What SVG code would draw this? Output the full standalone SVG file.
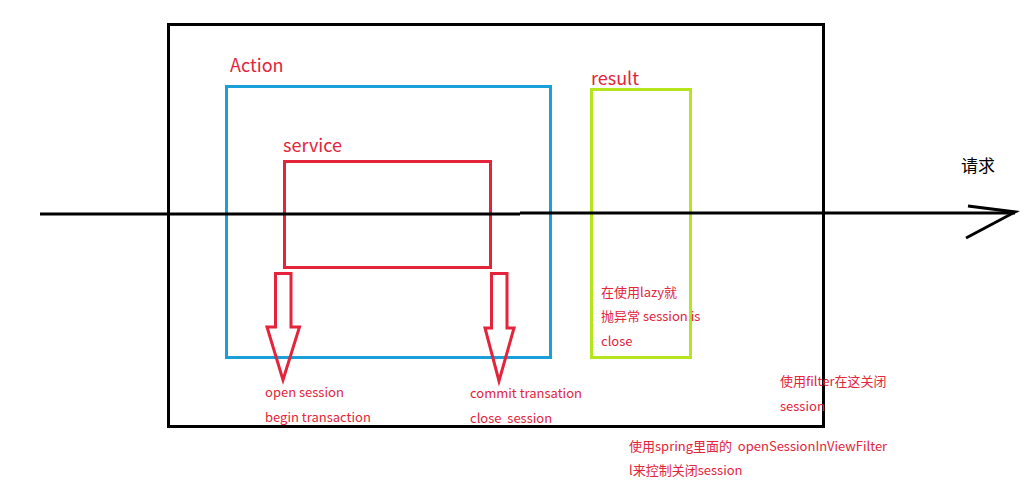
<svg xmlns="http://www.w3.org/2000/svg" width="1032" height="492" viewBox="0 0 1032 492">
<style>
.box{fill:none;stroke-width:3}
.lbl{font-family:"Noto Sans CJK SC","Liberation Sans",sans-serif;fill:#e3243b;white-space:pre}
.big{font-size:18px}
.sm{font-size:13px}
.red{fill:none;stroke:#e3243b;stroke-width:3;stroke-linejoin:miter}
</style>
<rect width="1032" height="492" fill="#ffffff"/>
<g id="container">
<rect class="box" x="168.5" y="24.5" width="655" height="402" stroke="#000000"/>
</g>
<g id="action">
<rect class="box" x="226.5" y="86.5" width="324" height="271" stroke="#1a9fdb"/>
<text class="lbl big" x="230" y="72">Action</text>
</g>
<g id="service">
<rect class="box" x="284.5" y="161.5" width="206" height="106" stroke="#e3243b"/>
<text class="lbl big" x="283" y="152">service</text>
</g>
<g id="result">
<rect class="box" x="591.5" y="89.5" width="99" height="268" stroke="#b5e61d"/>
<text class="lbl big" x="591" y="85">result</text>
<text class="lbl sm" x="601" y="297">在使用lazy就</text>
<text class="lbl sm" x="601" y="321">抛异常 session is</text>
<text class="lbl sm" x="601" y="346">close</text>
</g>
<g id="open-note">
<text class="lbl sm" x="265" y="397">open session</text>
<text class="lbl sm" x="265" y="422">begin transaction</text>
</g>
<g id="commit-note">
<text class="lbl sm" x="470" y="398">commit transation</text>
<text class="lbl sm" x="470" y="423" xml:space="preserve">close&#160; session</text>
</g>
<g id="filter-note">
<text class="lbl sm" x="780" y="386">使用filter在这关闭</text>
<text class="lbl sm" x="780" y="411">session</text>
</g>
<g id="spring-note">
<text class="lbl sm" x="629" y="451" xml:space="preserve">使用spring里面的&#160; openSessionInViewFilter</text>
<text class="lbl sm" x="629" y="475">l来控制关闭session</text>
</g>
<g id="request-label">
<text x="961" y="172" font-family="Noto Sans CJK SC,sans-serif" font-size="17" fill="#000000">请求</text>
</g>
<g id="connectors">
<path d="M40 214 H520 M520 213 H1015" fill="none" stroke="#000000" stroke-width="3"/>
<path d="M968 206 L1015 212 L966 238" fill="none" stroke="#000000" stroke-width="3"/>
<path class="red" d="M275.5 273.5 H291 V327 H299.5 L283 380 L267 327 H275.5 Z"/>
<path class="red" d="M491.5 273.5 H507 V328 H514 L499 381 L485 328 H491.5 Z"/>
</g>
</svg>
